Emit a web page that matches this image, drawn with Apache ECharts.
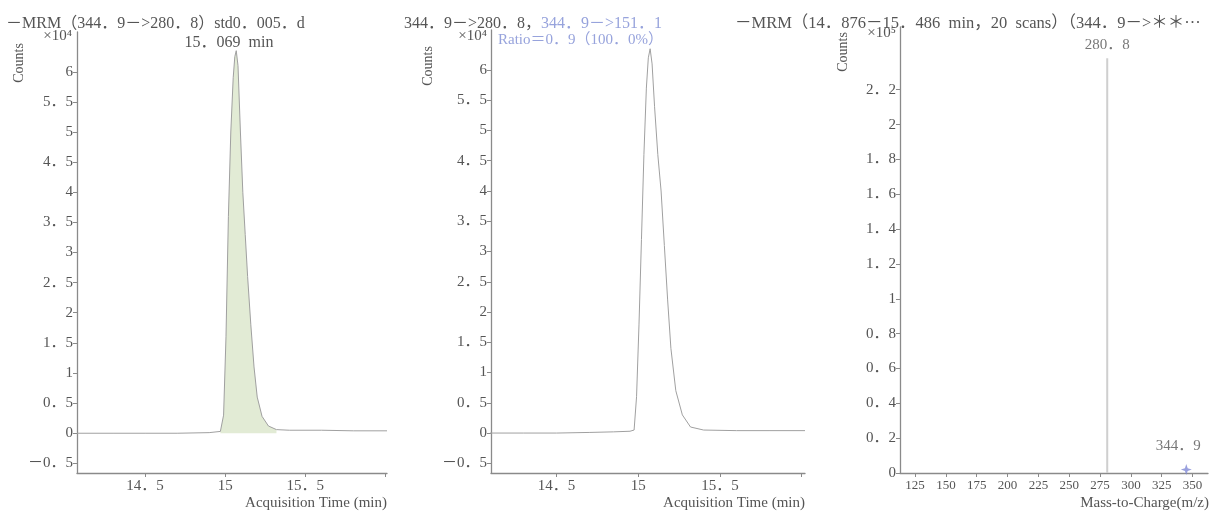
<!DOCTYPE html>
<html>
<head>
<meta charset="utf-8">
<script src="https://cdn.jsdelivr.net/npm/echarts@6/dist/echarts.min.js"></script>
<style>
html,body{margin:0;padding:0;background:#fff;}
#c{width:1210px;height:511px;}
</style>
</head>
<body>
<div id="c"></div>
<script>
// ---- Panel 1: quantifier MRM chromatogram (counts x10^4 vs min)
const t1 = [14.075, 14.3, 14.5, 14.7, 14.9, 14.97, 14.99, 15.005, 15.02, 15.035, 15.05, 15.06, 15.069, 15.08, 15.095, 15.11, 15.125, 15.14, 15.16, 15.18, 15.2, 15.23, 15.27, 15.32, 15.4, 15.6, 15.8, 16.01];
const y1 = [0, 0, 0, 0, 0.01, 0.03, 0.3, 1.6, 3.6, 5.0, 5.9, 6.25, 6.35, 6.1, 5.0, 4.0, 3.3, 2.6, 1.8, 1.1, 0.6, 0.28, 0.12, 0.06, 0.05, 0.05, 0.04, 0.04];
const fill1 = [14.97, 15.32];
// ---- Panel 2: qualifier MRM chromatogram
const t2 = [14.08, 14.3, 14.5, 14.7, 14.85, 14.95, 14.975, 14.99, 15.005, 15.02, 15.035, 15.05, 15.062, 15.073, 15.085, 15.1, 15.12, 15.14, 15.16, 15.18, 15.2, 15.23, 15.27, 15.32, 15.4, 15.6, 15.8, 16.02];
const y2 = [0, 0, 0, 0.01, 0.02, 0.03, 0.05, 0.6, 1.8, 3.2, 4.6, 5.7, 6.2, 6.35, 6.1, 5.4, 4.6, 4.0, 3.1, 2.2, 1.4, 0.7, 0.3, 0.1, 0.05, 0.04, 0.04, 0.04];
// ---- Panel 3: product ion spectrum (counts x10^5 vs m/z)
const mz3 = [280.8, 344.9];
const int3 = [2.38, 0.02];
// ---- tick labels
const timeTicks = [14.5, 15, 15.5];
const timeTickMarks = [14.5, 15, 15.5, 16];
const countTicks = [-0.5, 0, 0.5, 1, 1.5, 2, 2.5, 3, 3.5, 4, 4.5, 5, 5.5, 6];
const mzTicks = [125, 150, 175, 200, 225, 250, 275, 300, 325, 350];
const specTicks = [0, 0.2, 0.4, 0.6, 0.8, 1, 1.2, 1.4, 1.6, 1.8, 2, 2.2];
// ---- texts
const title1 = '－MRM（344．9－>280．8）std0．005．d';
const title2a = '344．9－>280．8，';
const title2b = '344．9－>151．1';
const ratio2 = 'Ratio＝0．9（100．0%）';
const title3 = '－MRM（14．876－15．486  min，20  scans）（344．9－>＊＊···';
const rtLabel = '15．069  min';

const FF = "'Liberation Serif','Noto Sans CJK SC',serif";
const fmt = v => String(v).replace('.', '．').replace('-', '－');

const chart = echarts.init(document.getElementById('c'));

function xAx(grid, min, max, labels, ticks, fs) {
  return {
    type: 'value', gridIndex: grid, min: min, max: max,
    splitLine: {show: false},
    axisLine: {show: true, onZero: false, lineStyle: {color: '#8a8a8a', width: 1.3}},
    axisTick: {show: true, length: 4, customValues: ticks, lineStyle: {color: '#8a8a8a'}},
    axisLabel: {show: true, customValues: labels, formatter: fmt, color: '#555', fontFamily: FF, fontSize: fs, margin: 6}
  };
}
function yAx(grid, min, max, labels, fs) {
  return {
    type: 'value', gridIndex: grid, min: min, max: max,
    splitLine: {show: false},
    axisLine: {show: true, onZero: false, lineStyle: {color: '#8a8a8a', width: 1.3}},
    axisTick: {show: true, length: 4, customValues: labels, lineStyle: {color: '#8a8a8a'}},
    axisLabel: {show: true, customValues: labels, formatter: fmt, color: '#555', fontFamily: FF, fontSize: fs, margin: 4}
  };
}

const zip = (a, b) => a.map((v, i) => [v, b[i]]);
const fillData = zip(t1, y1).filter(p => p[0] >= fill1[0] && p[0] <= fill1[1]);

const txt = (x, y, s, opt) => Object.assign({
  type: 'text', x: x, y: y,
  style: Object.assign({text: s, fill: '#555', font: '15px ' + FF, textVerticalAlign: 'middle'}, (opt && opt.style) || {})
}, opt ? {rotation: opt.rotation || 0} : {});

chart.setOption({
  animation: false,
  backgroundColor: '#ffffff',
  grid: [
    {left: 77, right: 1210 - 387, top: 32, bottom: 38},
    {left: 491, right: 1210 - 805, top: 30, bottom: 38},
    {left: 900, right: 2, top: 27, bottom: 38}
  ],
  xAxis: [
    xAx(0, 14.075, 16.01, timeTicks, timeTickMarks, 15),
    xAx(1, 14.1, 16.02, timeTicks, timeTickMarks, 15),
    xAx(2, 112.8, 362.5, mzTicks, mzTicks, 13)
  ],
  yAxis: [
    yAx(0, -0.66, 6.66, countTicks, 15),
    yAx(1, -0.66, 6.66, countTicks, 15),
    yAx(2, 0, 2.56, specTicks, 15)
  ],
  series: [
    {type: 'line', xAxisIndex: 0, yAxisIndex: 0, data: fillData, showSymbol: false,
     lineStyle: {width: 0}, areaStyle: {color: '#e2ebd5', opacity: 1}, z: 1},
    {type: 'line', xAxisIndex: 0, yAxisIndex: 0, data: zip(t1, y1), showSymbol: false,
     lineStyle: {color: '#a0a0a0', width: 1}, z: 2},
    {type: 'line', xAxisIndex: 1, yAxisIndex: 1, data: zip(t2, y2), showSymbol: false,
     lineStyle: {color: '#a0a0a0', width: 1}, z: 2},
    {type: 'line', xAxisIndex: 2, yAxisIndex: 2, data: [[mz3[0], 0], [mz3[0], int3[0]]], showSymbol: false,
     lineStyle: {color: '#cfcfcf', width: 2}},
    {type: 'scatter', xAxisIndex: 2, yAxisIndex: 2, symbolSize: 0,
     data: [[mz3[0], int3[0]]],
     label: {show: true, position: 'top', distance: 6, formatter: p => fmt(p.value[0]), color: '#555', fontFamily: FF, fontSize: 15}},
    {type: 'scatter', xAxisIndex: 2, yAxisIndex: 2, symbol: 'path://M0,-10 L2.5,-2.5 L10,0 L2.5,2.5 L0,10 L-2.5,2.5 L-10,0 L-2.5,-2.5 Z', symbolSize: 11,
     itemStyle: {color: '#7f88d6'},
     data: [[mz3[1], int3[1]]],
     label: {show: true, position: 'top', distance: 10, offset: [-8, 0], formatter: p => fmt(p.value[0]), color: '#555', fontFamily: FF, fontSize: 15}}
  ],
  graphic: [
    txt(6, 24, title1, {style: {font: '16px ' + FF, fill: '#555'}}),
    txt(229, 43, rtLabel, {style: {font: '16px ' + FF, fill: '#555', textAlign: 'center'}}),
    txt(19, 63, 'Counts', {rotation: Math.PI / 2, style: {font: '14px ' + FF, fill: '#555', textAlign: 'center'}}),
    txt(72, 36, '×10⁴', {style: {font: '15px ' + FF, fill: '#555', textAlign: 'right'}}),
    txt(387, 503, 'Acquisition Time (min)', {style: {font: '15px ' + FF, fill: '#555', textAlign: 'right'}}),

    txt(404, 24, title2a, {style: {font: '16px ' + FF, fill: '#555'}}),
    txt(541, 24, title2b, {style: {font: '16px ' + FF, fill: '#97a3dc'}}),
    txt(498, 40, ratio2, {style: {font: '15px ' + FF, fill: '#97a3dc'}}),
    txt(428, 66, 'Counts', {rotation: Math.PI / 2, style: {font: '14px ' + FF, fill: '#555', textAlign: 'center'}}),
    txt(487, 36, '×10⁴', {style: {font: '15px ' + FF, fill: '#555', textAlign: 'right'}}),
    txt(805, 503, 'Acquisition Time (min)', {style: {font: '15px ' + FF, fill: '#555', textAlign: 'right'}}),

    txt(735, 24, title3, {style: {font: '16.5px ' + FF, fill: '#555'}}),
    txt(843, 52, 'Counts', {rotation: Math.PI / 2, style: {font: '14px ' + FF, fill: '#555', textAlign: 'center'}}),
    txt(896, 33, '×10⁵', {style: {font: '15px ' + FF, fill: '#555', textAlign: 'right'}}),
    txt(1209, 503, 'Mass-to-Charge(m/z)', {style: {font: '15px ' + FF, fill: '#555', textAlign: 'right'}})
  ]
});
</script>
</body>
</html>
